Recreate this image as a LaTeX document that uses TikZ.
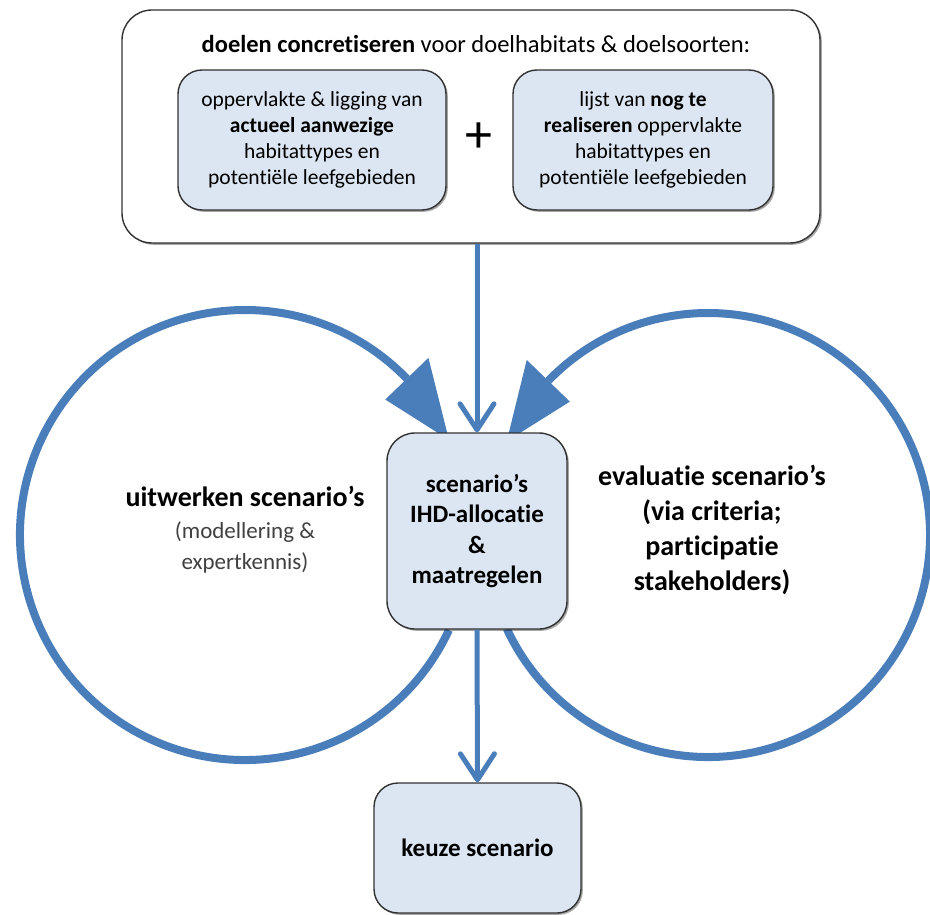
\documentclass[tikz,border=0pt]{standalone}
\usepackage{fontspec}
\setmainfont[Ligatures=NoCommon]{Carlito}
\usetikzlibrary{arrows.meta,calc,shadows}
\definecolor{flowblue}{RGB}{74,126,187}
\definecolor{boxfill}{RGB}{220,230,242}
\definecolor{edgegray}{RGB}{50,50,50}
\begin{document}
\begin{tikzpicture}[x=1pt,y=1pt,
  shadowed/.style={drop shadow={shadow xshift=1.8pt, shadow yshift=-1.8pt, opacity=0.35, fill=black}},
  panel/.style={draw=edgegray, line width=1.4pt, rounded corners=30pt, fill=white, inner sep=0pt, shadowed},
  bluebox/.style={draw=edgegray, line width=1.4pt, fill=boxfill, inner sep=0pt, align=center, rounded corners=24pt, shadowed},
  flow/.style={draw=flowblue, line width=5pt, -{Straight Barb[length=26pt,width=34pt,round]}},
  loopline/.style={draw=flowblue, line width=8pt},
  txt/.style={align=center, inner sep=0pt}]
\useasboundingbox (0,0) rectangle (930,-915);

% loops
\coordinate (L) at (245,-535);
\coordinate (R) at (708,-535);
\draw[loopline] ($(L)+(-25:225)$) arc[start angle=-25, end angle=-316, radius=225];
\fill[flowblue] ($(L)+(44:255)$) -- ($(L)+(25:225)$) -- ($(L)+(44:195)$) -- cycle;
\draw[loopline] ($(R)+(-155:222)$) arc[start angle=-155, end angle=136, radius=222];
\fill[flowblue] ($(R)+(136:252)$) -- ($(R)+(155:222)$) -- ($(R)+(136:192)$) -- cycle;

% top panel
\node[panel, minimum width=698pt, minimum height=233pt] (top) at (471,-126.5) {};
\node[txt, font=\fontsize{24.5}{28}\selectfont] (title) at (476,-44)
  {\textbf{doelen concretiseren} voor doelhabitats \& doelsoorten:};
\node[bluebox, minimum width=268pt, minimum height=140pt, font=\fontsize{21.5}{26}\selectfont] (cur) at (312,-140)
  {oppervlakte \& ligging van\\ \textbf{actueel aanwezige}\\ habitattypes en\\ potentiële leefgebieden};
\node[bluebox, minimum width=260pt, minimum height=140pt, font=\fontsize{21.5}{26}\selectfont] (todo) at (643,-140)
  {lijst van \textbf{nog te}\\ \textbf{realiseren} oppervlakte\\ habitattypes en\\ potentiële leefgebieden};
\node[txt, font=\fontsize{54}{54}\selectfont] (plus) at (479,-138) {+};

% centre box
\node[bluebox, minimum width=180pt, minimum height=196pt, rounded corners=28pt,
      font=\bfseries\fontsize{25}{30.5}\selectfont] (scen) at (477,-531)
  {scenario’s\\ IHD-allocatie\\ \&\\ maatregelen};

% keuze box
\node[bluebox, minimum width=207pt, minimum height=130pt, font=\bfseries\fontsize{25}{28}\selectfont] (keuze) at (477.5,-848)
  {keuze scenario};

% loop labels
\node[txt, font=\fontsize{23}{31.5}\selectfont] (uitw) at (245,-530)
  {{\bfseries\fontsize{28}{31.5}\selectfont uitwerken scenario’s}\\
   {\color{black!75}(modellering \&}\\
   {\color{black!75}expertkennis)}};
\node[txt, font=\bfseries\fontsize{28}{35}\selectfont] (eval) at (712,-530)
  {evaluatie scenario’s\\ (via criteria;\\ participatie\\ stakeholders)};

% straight arrows
\draw[flow] (top.south -| scen.north) -- (scen.north);
\draw[flow] (scen.south) -- (keuze.north);
\end{tikzpicture}
\end{document}
